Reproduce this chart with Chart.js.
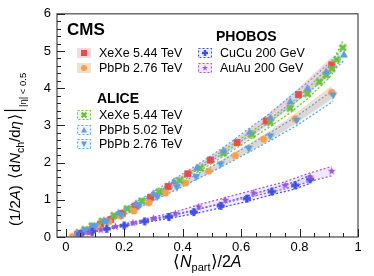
<!DOCTYPE html>
<html>
<head>
<meta charset="utf-8">
<script src="https://cdn.jsdelivr.net/npm/chart.js@4.4.1/dist/chart.umd.min.js"></script>
<style>
  html, body { margin: 0; padding: 0; background: #fff; }
  canvas { display: block; }
</style>
</head>
<body>
<canvas id="c" width="374" height="276"></canvas>
<script>
// values
var cmsXeXeX = [0.04, 0.051, 0.072, 0.093, 0.119, 0.154, 0.193, 0.237, 0.29, 0.35, 0.417, 0.495, 0.586, 0.686, 0.796, 0.91];
var cmsXeXeY = [0.05, 0.10, 0.16, 0.23, 0.35, 0.47, 0.63, 0.83, 1.07, 1.36, 1.70, 2.07, 2.54, 3.12, 3.83, 4.63];

var cmsPbPbX = [0.023, 0.05, 0.08, 0.11, 0.148, 0.188, 0.233, 0.284, 0.341, 0.41, 0.489, 0.58, 0.677, 0.785, 0.91];
var cmsPbPbY = [0.02, 0.09, 0.18, 0.28, 0.41, 0.56, 0.70, 0.92, 1.18, 1.45, 1.77, 2.19, 2.63, 3.18, 3.89];

var aliXeXeX = [0.045, 0.065, 0.09, 0.125, 0.165, 0.21, 0.26, 0.32, 0.39, 0.46, 0.54, 0.637, 0.70, 0.768, 0.827, 0.868, 0.891, 0.91, 0.927, 0.948];
var aliXeXeY = [0.12, 0.20, 0.30, 0.43, 0.58, 0.76, 0.97, 1.22, 1.52, 1.85, 2.25, 2.75, 3.08, 3.46, 3.85, 4.17, 4.35, 4.52, 4.77, 5.09];

var aliPbPb5X = [0.04, 0.06, 0.09, 0.13, 0.18, 0.24, 0.30, 0.37, 0.449, 0.54, 0.629, 0.70, 0.768, 0.827, 0.891, 0.952];
var aliPbPb5Y = [0.10, 0.18, 0.30, 0.45, 0.66, 0.91, 1.18, 1.50, 1.87, 2.33, 2.83, 3.22, 3.65, 4.01, 4.45, 4.91];

var aliPbPb2X = [0.04, 0.07, 0.10, 0.14, 0.19, 0.25, 0.313, 0.38, 0.446, 0.53, 0.626, 0.70, 0.79, 0.915];
var aliPbPb2Y = [0.08, 0.17, 0.27, 0.40, 0.58, 0.82, 1.07, 1.33, 1.61, 1.95, 2.37, 2.70, 3.12, 3.80];

var phoCuCuX = [0.05, 0.09, 0.14, 0.20, 0.27, 0.353, 0.438, 0.53, 0.62, 0.705, 0.785, 0.836];
var phoCuCuY = [0.08, 0.14, 0.22, 0.31, 0.42, 0.54, 0.67, 0.84, 1.03, 1.22, 1.39, 1.55];

var phoAuAuX = [0.05, 0.08, 0.12, 0.17, 0.23, 0.30, 0.375, 0.455, 0.546, 0.643, 0.751, 0.836, 0.91];
var phoAuAuY = [0.07, 0.12, 0.19, 0.28, 0.38, 0.50, 0.63, 0.81, 0.99, 1.18, 1.39, 1.61, 1.77];

// relative systematic uncertainty (band half width)
var sysCmsXeXe = 0.045, sysCmsPbPb = 0.045;
var sysAliXeXe = 0.035, sysAliPbPb5 = 0.035, sysAliPbPb2 = 0.04;
var sysPhoCuCu = 0.07, sysPhoAuAu = 0.07;

var xTicks = [0, 0.2, 0.4, 0.6, 0.8, 1];
var yTicks = [0, 1, 2, 3, 4, 5, 6];

var FONT = '"Liberation Sans", Arial, Helvetica, sans-serif';

// ROOT-like filled markers
function markerCanvas(kind, color, r) {
  var s = Math.ceil(r * 2 + 2);
  var cv = document.createElement('canvas');
  cv.width = s; cv.height = s;
  var g = cv.getContext('2d');
  drawMarker(g, kind, s / 2, s / 2, color, r);
  return cv;
}

function drawMarker(g, kind, x, y, color, r) {
  g.save();
  g.fillStyle = color;
  g.strokeStyle = color;
  if (kind === 'square') {
    g.fillRect(x - r, y - r, 2 * r, 2 * r);
  } else if (kind === 'circle') {
    g.beginPath(); g.arc(x, y, r, 0, Math.PI * 2); g.fill();
  } else if (kind === 'triUp' || kind === 'triDown') {
    var d = kind === 'triUp' ? 1 : -1;
    g.beginPath();
    g.moveTo(x, y - d * r);
    g.lineTo(x + r, y + d * r * 0.8);
    g.lineTo(x - r, y + d * r * 0.8);
    g.closePath(); g.fill();
  } else if (kind === 'xcross') {
    g.lineWidth = r * 0.75;
    g.beginPath();
    g.moveTo(x - r * 0.8, y - r * 0.8); g.lineTo(x + r * 0.8, y + r * 0.8);
    g.moveTo(x + r * 0.8, y - r * 0.8); g.lineTo(x - r * 0.8, y + r * 0.8);
    g.stroke();
  } else if (kind === 'plus') {
    var w = r * 0.4;
    g.fillRect(x - r, y - w, 2 * r, 2 * w);
    g.fillRect(x - w, y - r, 2 * w, 2 * r);
  } else if (kind === 'star') {
    g.beginPath();
    for (var i = 0; i < 10; i++) {
      var rr = i % 2 === 0 ? r : r * 0.42;
      var a = -Math.PI / 2 + i * Math.PI / 5;
      g.lineTo(x + rr * Math.cos(a), y + rr * Math.sin(a));
    }
    g.closePath(); g.fill();
  }
  g.restore();
}

var series = [
  { key: 'phoAuAu', xs: phoAuAuX, ys: phoAuAuY, sys: sysPhoAuAu, kind: 'star', color: '#9b55d8', r: 4.2,
    fill: 'rgba(170,120,235,0.16)', line: '#9c5fe0', dashed: true, group: 3 },
  { key: 'phoCuCu', xs: phoCuCuX, ys: phoCuCuY, sys: sysPhoCuCu, kind: 'plus', color: '#3f4fe6', r: 4,
    fill: 'rgba(90,100,235,0.10)', line: '#4256ee', dashed: true, group: 3 },
  { key: 'aliPbPb2', xs: aliPbPb2X, ys: aliPbPb2Y, sys: sysAliPbPb2, kind: 'triDown', color: '#5b9de0', r: 4,
    fill: 'rgba(110,175,240,0.12)', line: '#5aaaf0', dashed: true, group: 2 },
  { key: 'aliPbPb5', xs: aliPbPb5X, ys: aliPbPb5Y, sys: sysAliPbPb5, kind: 'triUp', color: '#6a9ad6', r: 4,
    fill: 'rgba(110,170,235,0.12)', line: '#62a8ee', dashed: true, group: 2 },
  { key: 'aliXeXe', xs: aliXeXeX, ys: aliXeXeY, sys: sysAliXeXe, kind: 'xcross', color: '#6cc13c', r: 3.8,
    fill: 'rgba(130,210,80,0.14)', line: '#72c840', dashed: true, group: 2 },
  { key: 'cmsPbPb', xs: cmsPbPbX, ys: cmsPbPbY, sys: sysCmsPbPb, kind: 'circle', color: '#f5a04c', r: 3.6,
    fill: 'rgba(228,195,165,0.55)', line: null, dashed: false, group: 1 },
  { key: 'cmsXeXe', xs: cmsXeXeX, ys: cmsXeXeY, sys: sysCmsXeXe, kind: 'square', color: '#ef4848', r: 3.4,
    fill: 'rgba(238,150,160,0.38)', line: null, dashed: false, group: 1 }
];

var datasets = [];
series.forEach(function(s) {
  var lo = s.xs.map(function(x, i) { return { x: x, y: s.ys[i] * (1 - s.sys) }; });
  var hi = s.xs.map(function(x, i) { return { x: x, y: s.ys[i] * (1 + s.sys) }; });
  var loIdx = datasets.length;
  var lineOpts = {
    borderColor: s.line || 'rgba(0,0,0,0)',
    borderWidth: s.line ? 1.3 : 0,
    borderDash: s.dashed ? [2, 2] : [],
    pointRadius: 0,
    tension: 0,
    order: 200 - s.group * 10
  };
  datasets.push(Object.assign({ data: lo, fill: false }, lineOpts));
  datasets.push(Object.assign({ data: hi, fill: loIdx, backgroundColor: s.fill }, lineOpts));
});
series.forEach(function(s) {
  datasets.push({
    data: s.xs.map(function(x, i) { return { x: x, y: s.ys[i] }; }),
    showLine: false,
    pointStyle: markerCanvas(s.kind, s.color, s.r),
    pointRadius: s.r,
    order: 60 - s.group * 10
  });
});

function fmt(v) { return String(Math.round(v * 10) / 10); }

var decor = {
  id: 'decor',
  afterDraw: function(chart) {
    var ctx = chart.ctx, a = chart.chartArea;
    var xs = chart.scales.x, ys = chart.scales.y;
    ctx.save();
    // frame
    ctx.strokeStyle = '#555';
    ctx.lineWidth = 1.3;
    ctx.strokeRect(a.left, a.top, a.right - a.left, a.bottom - a.top);
    // inward ticks
    ctx.strokeStyle = '#222';
    ctx.lineWidth = 1;
    ctx.beginPath();
    for (var v = 0; v <= 1.0001; v += 0.05) {
      var px = Math.round(xs.getPixelForValue(v)) + 0.5;
      var major = Math.abs(v / 0.2 - Math.round(v / 0.2)) < 1e-6;
      ctx.moveTo(px, a.bottom); ctx.lineTo(px, a.bottom - (major ? 8 : 4));
    }
    for (var w = 0; w <= 6.0001; w += 0.2) {
      var py = Math.round(ys.getPixelForValue(w)) + 0.5;
      var maj = Math.abs(w - Math.round(w)) < 1e-6;
      ctx.moveTo(a.left, py); ctx.lineTo(a.left + (maj ? 8 : 4), py);
    }
    ctx.stroke();

    // y title
    ctx.fillStyle = '#000';
    ctx.textBaseline = 'alphabetic';
    ctx.textAlign = 'left';
    ctx.translate(20, 226);
    ctx.rotate(-Math.PI / 2);
    var cx = 0;
    function put(t, style, size, dy) {
      ctx.font = style + ' ' + size + 'px ' + FONT;
      ctx.fillText(t, cx, dy || 0);
      cx += ctx.measureText(t).width;
    }
    put('(1/2', '', 15); put('A', 'italic', 15); put(')', '', 15);
    cx += 6;
    put('\u27E8', '', 16); cx += 1;
    put('d', '', 15); put('N', 'italic', 15); put('ch', '', 10.5, 4);
    put('/d', '', 15); put('\u03B7', 'italic', 15); cx += 1; put('\u27E9', '', 16);
    cx += 3;
    ctx.fillRect(cx, -16, 1.2, 22);
    cx += 4;
    put('|\u03B7| < 0.5', '', 9.5, 6);
    ctx.restore();

    // x title
    ctx.save();
    ctx.fillStyle = '#000';
    ctx.textBaseline = 'alphabetic';
    cx = 173;
    function putx(t, style, size, dy) {
      ctx.font = style + ' ' + size + 'px ' + FONT;
      ctx.fillText(t, cx, 267 + (dy || 0));
      cx += ctx.measureText(t).width;
    }
    putx('\u27E8', '', 17); putx('N', 'italic', 16); putx('part', '', 11, 4);
    putx('\u27E9', '', 17); putx('/2', '', 16); putx('A', 'italic', 16);
    ctx.restore();

    // legend
    ctx.save();
    ctx.fillStyle = '#000';
    ctx.textBaseline = 'middle';
    ctx.font = 'bold 17px ' + FONT;
    ctx.fillText('CMS', 67, 30);
    ctx.font = 'bold 14px ' + FONT;
    ctx.fillText('ALICE', 97, 99);
    ctx.fillText('PHOBOS', 216, 37);
    var rows = [
      { s: 'cmsXeXe', t: 'XeXe 5.44 TeV', x: 77, y: 53 },
      { s: 'cmsPbPb', t: 'PbPb 2.76 TeV', x: 77, y: 68 },
      { s: 'aliXeXe', t: 'XeXe 5.44 TeV', x: 77, y: 115 },
      { s: 'aliPbPb5', t: 'PbPb 5.02 TeV', x: 77, y: 130 },
      { s: 'aliPbPb2', t: 'PbPb 2.76 TeV', x: 77, y: 144 },
      { s: 'phoCuCu', t: 'CuCu 200 GeV', x: 198, y: 53 },
      { s: 'phoAuAu', t: 'AuAu 200 GeV', x: 198, y: 68 }
    ];
    rows.forEach(function(r) {
      var s = series.filter(function(q) { return q.key === r.s; })[0];
      var bw = 14, bh = 10;
      ctx.fillStyle = s.fill;
      ctx.fillRect(r.x, r.y - bh / 2, bw, bh);
      if (s.line) {
        ctx.strokeStyle = s.line;
        ctx.lineWidth = 1.2;
        ctx.setLineDash([2, 2]);
        ctx.strokeRect(r.x + 0.5, r.y - bh / 2 + 0.5, bw - 1, bh - 1);
        ctx.setLineDash([]);
      }
      drawMarker(ctx, s.kind, r.x + bw / 2, r.y, s.color, 3);
      ctx.fillStyle = '#000';
      ctx.font = '12.5px ' + FONT;
      ctx.fillText(r.t, r.x + 22, r.y + 0.5);
    });
    ctx.restore();
  }
};

new Chart(document.getElementById('c').getContext('2d'), {
  type: 'line',
  data: { datasets: datasets },
  options: {
    responsive: false,
    animation: false,
    events: [],
    layout: { padding: { top: 12, right: 16, left: 0, bottom: 0 } },
    plugins: { legend: { display: false }, tooltip: { enabled: false } },
    scales: {
      x: {
        type: 'linear', min: -0.03, max: 1,
        grid: { display: false, drawTicks: false },
        border: { display: false },
        afterBuildTicks: function(s) { s.ticks = xTicks.map(function(v) { return { value: v }; }); },
        afterFit: function(s) { s.height = 39; },
        ticks: { padding: 3, color: '#000', maxRotation: 0, font: { family: FONT, size: 13 }, callback: fmt }
      },
      y: {
        type: 'linear', min: 0, max: 6,
        grid: { display: false, drawTicks: false },
        border: { display: false },
        afterBuildTicks: function(s) { s.ticks = yTicks.map(function(v) { return { value: v }; }); },
        afterFit: function(s) { s.width = 57; },
        ticks: { padding: 6, color: '#000', font: { family: FONT, size: 13 }, callback: fmt }
      }
    }
  },
  plugins: [decor]
});
</script>
</body>
</html>
